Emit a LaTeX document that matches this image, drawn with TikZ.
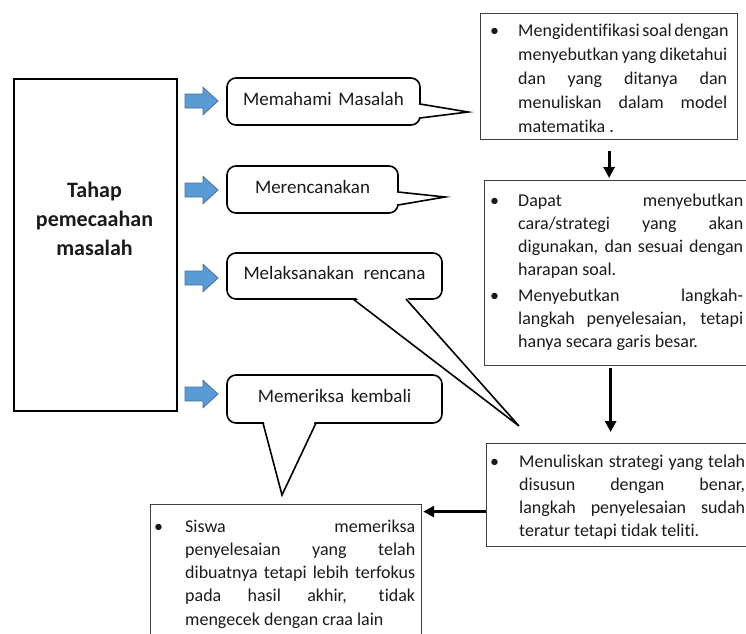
\documentclass[tikz,border=0pt]{standalone}
\usepackage{fontspec}
\setmainfont{Carlito}[Ligatures=NoCommon]
\usetikzlibrary{arrows.meta}
\definecolor{arrowblue}{HTML}{5B9BD5}
\definecolor{arrowedge}{HTML}{41719C}
\definecolor{boxgray}{HTML}{404040}
\definecolor{txt}{HTML}{1A1A1A}
\newcommand{\jline}[1]{\makebox[\linewidth][s]{#1}\\}
\newcommand{\bulitem}[3]{\makebox[#1][l]{\textbullet}\parbox[t]{#2}{#3}}
\newcommand{\bubtail}[5]{%
  \fill[white] (#4) -- (#2) -- (#5) -- cycle;
  \draw[line width=1.6pt, line join=miter] (#1) -- (#2) -- (#3);}
\begin{document}
\begin{tikzpicture}[x=1pt,y=-1pt,
  bigbox/.style={draw=black, line width=1.5pt, inner sep=0pt, anchor=north west},
  infobox/.style={draw=boxgray, line width=1.2pt, inner sep=0pt, anchor=north west},
  bubble/.style={draw=black, line width=1.6pt, rounded corners=9pt, fill=white, inner sep=0pt,
    font=\fontsize{19}{23}\selectfont, text=txt, text height=12pt, text depth=5pt},
  bullettext/.style={anchor=base west, inner sep=0pt, text=txt},
  flow/.style={line width=3pt, -{Triangle[length=11pt,width=11pt]}},
  bluearrow/.style={fill=arrowblue, draw=arrowedge, line width=0.8pt, line join=miter}]
\useasboundingbox (0,0) rectangle (746,633);
\begin{scope}
\clip (0,0) rectangle (746,633);

% left stage box
\node[bigbox, minimum width=163pt, minimum height=332pt] (stage) at (13,78) {};
\node[align=center, font=\fontsize{22}{29}\selectfont\bfseries, text=txt, inner sep=0pt] (title) at (94.5,219) {Tahap\\pemecaahan\\masalah};

% blue arrows
\foreach \yy in {101,190,278,394} {
  \draw[bluearrow, shift={(0,\yy)}] (185,-7) -- (203,-7) -- (203,-13.7) -- (218,0) -- (203,13.7) -- (203,7) -- (185,7) -- cycle;
}

% callouts
\node[bubble, minimum width=193pt, minimum height=47pt] (c1) at (323.5,101.5) {Memahami\hspace{0.35em}Masalah};
\node[bubble, minimum width=171pt, minimum height=47pt] (c2) at (312.5,189.5) {Merencanakan};
\node[bubble, minimum width=215pt, minimum height=46pt] (c3) at (334.5,276) {Melaksanakan\hspace{0.5em}rencana};
\node[bubble, minimum width=215pt, minimum height=48pt] (c4) at (334.5,399) {Memeriksa\hspace{0.35em}kembali};

\coordinate (tip1) at (468,112);
\coordinate (tip2) at (445,197);
\coordinate (tip3) at (519,426);
\coordinate (tip4) at (282,495);
\bubtail{420,104}{tip1}{420,118}{417,104.5}{417,117.5}
\bubtail{398,192}{tip2}{398,205}{395,192.5}{395,204.5}
\bubtail{353,299}{tip3}{406,299}{353.5,296}{405.5,296}
\bubtail{263,423}{tip4}{316,423}{263.5,420}{315.5,420}

% info boxes
\node[infobox, minimum width=257pt, minimum height=126pt] (b1) at (480,13) {};
\node[infobox, minimum width=280pt, minimum height=185pt] (b2) at (484,180) {};
\node[infobox, minimum width=280pt, minimum height=103pt] (b3) at (486,443) {};
\node[infobox, minimum width=271pt, minimum height=150pt] (b4) at (150,504) {};

\node[bullettext, font=\fontsize{18}{24}\selectfont] (t1) at (490,36)
  {\bulitem{28pt}{209pt}{\jline{Mengidentifikasi soal dengan}\jline{menyebutkan yang diketahui}\jline{dan yang ditanya dan}\jline{menuliskan dalam model}matematika .}};
\node[bullettext, font=\fontsize{18}{23.3}\selectfont] (t2a) at (490,206)
  {\bulitem{28pt}{225pt}{\jline{Dapat menyebutkan}\jline{cara/strategi yang akan}\jline{digunakan, dan sesuai dengan}harapan soal.}};
\node[bullettext, font=\fontsize{18}{23.3}\selectfont] (t2b) at (490,301)
  {\bulitem{28pt}{225pt}{\jline{Menyebutkan langkah-}\jline{langkah penyelesaian, tetapi}hanya secara garis besar.}};
\node[bullettext, font=\fontsize{18}{23.2}\selectfont] (t3) at (490,467)
  {\bulitem{29pt}{226pt}{\jline{Menuliskan strategi yang telah}\jline{disusun dengan benar,}\jline{langkah penyelesaian sudah}teratur tetapi tidak teliti.}};
\node[bullettext, font=\fontsize{18}{23.3}\selectfont] (t4) at (154,532)
  {\bulitem{31pt}{230pt}{\jline{Siswa memeriksa}\jline{penyelesaian yang telah}\jline{dibuatnya tetapi lebih terfokus}\jline{pada hasil akhir, tidak}mengecek dengan craa lain}};

% flow arrows
\draw[flow, shorten <=11pt, shorten >=2pt] (b1.south) -- (b1.south |- b2.north);
\draw[flow, shorten <=2pt, shorten >=11pt] ([xshift=-14pt]b2.south) -- ([xshift=-14pt]b2.south |- b3.north);
\draw[flow, shorten >=1pt] ([yshift=-16.5pt]b3.west) -- ([yshift=-16.5pt]b3.west -| b4.east);
\end{scope}
\end{tikzpicture}
\end{document}
